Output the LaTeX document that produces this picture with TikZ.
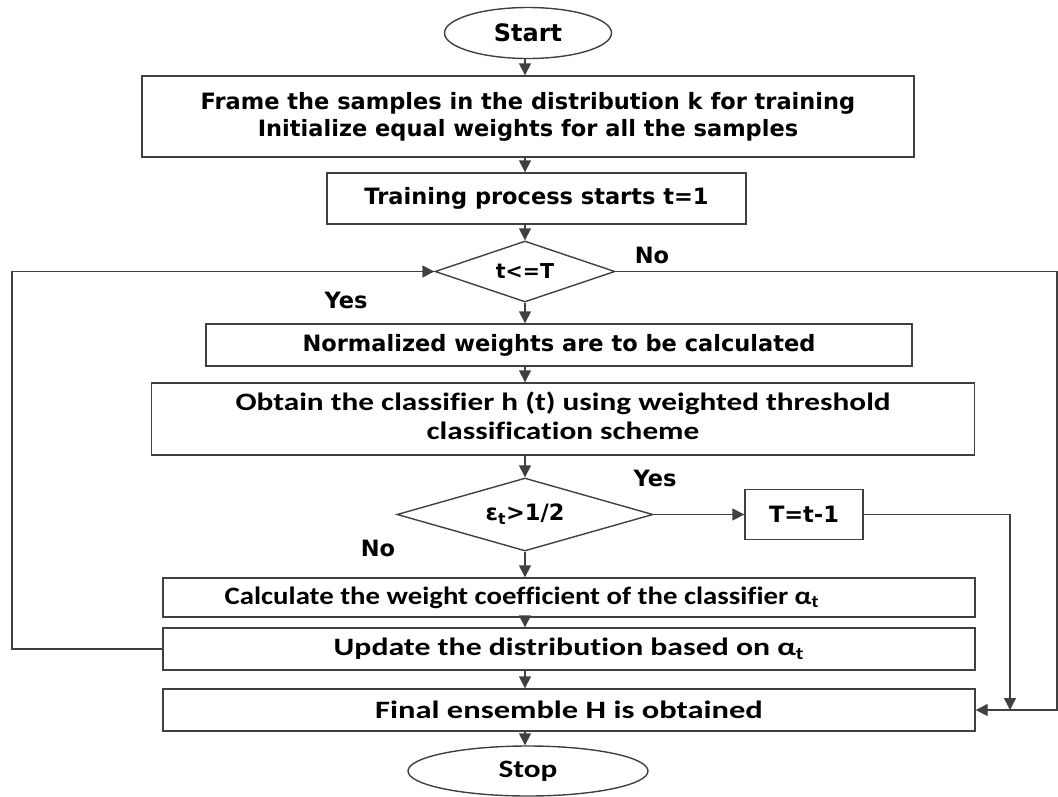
\documentclass[tikz,border=0pt]{standalone}
\usepackage{fontspec}
\usepackage{graphicx}
\usetikzlibrary{shapes.geometric,arrows.meta}
\newfontfamily\vfont{DejaVu Sans}
\newfontfamily\cfont{Carlito}[Ligatures=NoCommon]
\newcommand{\cstretch}[2][1.25]{\scalebox{#1}[1]{#2}}
\begin{document}
\begin{tikzpicture}[x=1pt,y=-1pt,
  line/.style={draw=black!75, line width=1.4pt},
  arr/.style={line, -{Triangle[length=12pt,width=12pt]}},
  vtext/.style={font=\vfont\bfseries\fontsize{22.5}{27}\selectfont},
  ctext/.style={font=\cfont\bfseries\fontsize{25}{29}\selectfont},
  boxn/.style={line, rectangle, inner sep=0pt, align=center},
  term/.style={line, ellipse, inner sep=0pt},
  decision/.style={line, diamond, inner sep=0pt}
]
\useasboundingbox (0,0) rectangle (1058,796);

\node[term, font=\vfont\bfseries\fontsize{24}{28}\selectfont, minimum width=167pt, minimum height=51pt] (start) at (528,33) {Start};
\node[boxn, vtext, minimum width=772pt, minimum height=81pt] (frame) at (528,116.5) {Frame the samples in the distribution k for training\\Initialize equal weights for all the samples};
\node[boxn, vtext, minimum width=419pt, minimum height=51pt] (train) at (536.5,198.5) {Training process starts t=1};
\node[decision, font=\vfont\bfseries\fontsize{20.5}{24}\selectfont, aspect=3, minimum width=180pt, minimum height=61pt] (d1) at (525,271.5) {t<=T};
\node[boxn, vtext, minimum width=706pt, minimum height=42pt] (norm) at (559,345) {Normalized weights are to be calculated};
\node[boxn, ctext, minimum width=823pt, minimum height=72pt] (obt) at (563,419) {\cstretch{\begin{tabular}{@{}c@{}}Obtain the classifier h (t) using weighted threshold\\classification scheme\end{tabular}}};
\node[decision, vtext, aspect=3.5, minimum width=256pt, minimum height=73pt] (d2) at (525,514.5) {ε\textsubscript{t}>1/2};
\node[boxn, vtext, minimum width=118pt, minimum height=50pt] (tb) at (804,514.5) {T=t-1};
\node[boxn, minimum width=812pt, minimum height=39pt] (calc) at (569,597.5) {};
\node[ctext, inner sep=0pt] (calct) at (522,597.5) {\cstretch[1.15]{Calculate the weight coefficient of the classifier α\textsubscript{t}}};
\node[boxn, ctext, minimum width=812pt, minimum height=42pt] (upd) at (569,649) {\cstretch[1.27]{Update the distribution based on α\textsubscript{t}}};
\node[boxn, ctext, minimum width=812pt, minimum height=42pt] (fin) at (569,710) {\cstretch[1.3]{Final ensemble H is obtained}};
\node[term, ctext, minimum width=240pt, minimum height=50pt] (stop) at (528,771) {\cstretch{Stop}};

\node[vtext] (no1) at (652,255) {No};
\node[vtext] (yes1) at (346,300) {Yes};
\node[vtext] (yes2) at (655,478) {Yes};
\node[vtext] (no2) at (378,548) {No};

\coordinate (sp) at (525,0);
\coordinate (lx) at (12,0);
\coordinate (rx) at (1057,0);
\coordinate (vx) at (1010,0);

\draw[arr] (start.south -| sp) -- (frame.north -| sp);
\draw[arr] (frame.south -| sp) -- (train.north -| sp);
\draw[arr] (train.south -| sp) -- (d1.north);
\draw[arr] (d1.south) -- (norm.north -| sp);
\draw[arr] (norm.south -| sp) -- (obt.north -| sp);
\draw[arr] (obt.south -| sp) -- (d2.north);
\draw[arr] (d2.south) -- (calc.north -| sp);
\draw[arr] (calc.south -| sp) -- (upd.north -| sp);
\draw[arr] (upd.south -| sp) -- (fin.north -| sp);
\draw[arr] (fin.south -| sp) -- (stop.north -| sp);

\draw[arr] (upd.west) -- (upd.west -| lx) |- (d1.west);
\draw[arr] (d1.east) -- (d1.east -| rx) |- (fin.east);
\draw[arr] (d2.east) -- (tb.west);
\draw[arr] (tb.east) -- (tb.east -| vx) -- (vx |- fin.east);
\end{tikzpicture}
\end{document}
